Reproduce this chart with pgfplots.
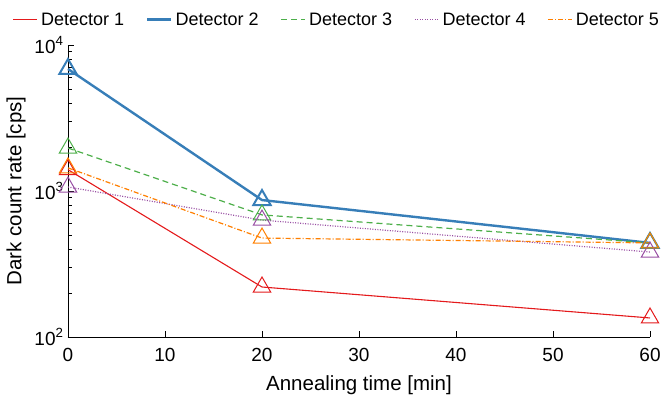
\documentclass[border=0pt]{standalone}
\usepackage{pgfplots}
\pgfplotsset{compat=1.18}
\usepackage{fontspec}
\setmainfont{Liberation Sans}
\usetikzlibrary{calc}

\definecolor{c1}{RGB}{228,26,28}
\definecolor{c2}{RGB}{55,126,184}
\definecolor{c3}{RGB}{77,175,74}
\definecolor{c4}{RGB}{152,78,163}
\definecolor{c5}{RGB}{255,127,0}

\begin{document}
\begin{tikzpicture}
\begin{axis}[
    name=ax,
    scale only axis,
    width=582bp, height=292bp,
    ymode=log,
    xmin=0, xmax=60, ymin=100, ymax=10000,
    axis x line=bottom, axis y line=left,
    axis line style={-, black, line width=0.9bp},
    tick align=inside,
    tick style={black, line width=0.8bp},
    major tick length=6bp, minor tick length=4bp,
    xtick={0,10,20,30,40,50,60},
    ytick={100,1000,10000},
    yticklabels={10\textsuperscript{2},10\textsuperscript{3},10\textsuperscript{4}},
    /pgf/number format/assume math mode=true,
    ticklabel style={font=\fontsize{19bp}{22bp}\selectfont},
    xticklabel style={yshift=-8bp},
    yticklabel style={xshift=-1bp},
    label style={font=\fontsize{20.5bp}{24bp}\selectfont},
    xlabel={Annealing time [min]},
    ylabel={Dark count rate [cps]},
    xlabel style={yshift=-7bp},
    ylabel style={yshift=2bp},
    clip=false,
    every axis plot/.append style={mark size=10bp},
    legend columns=5,
    legend style={draw=none, fill=none, at={(0.462,1)}, anchor=south, yshift=14bp,
        font=\fontsize{18bp}{21bp}\selectfont,
        /tikz/every odd column/.append style={column sep=1bp},
        /tikz/every even column/.append style={column sep=20bp}},
    legend image code/.code={\draw[#1] (0bp,0bp) -- (24bp,0bp);},
]
\addlegendimage{draw=c1, line width=1.3bp}
\addlegendentry{Detector 1}
\addlegendimage{draw=c2, line width=2.6bp}
\addlegendentry{Detector 2}
\addlegendimage{draw=c3, line width=1.4bp, dash pattern=on 6bp off 4bp}
\addlegendentry{Detector 3}
\addlegendimage{draw=c4, line width=1.4bp, dash pattern=on 1bp off 1.5bp}
\addlegendentry{Detector 4}
\addlegendimage{draw=c5, line width=1.4bp, dash pattern=on 5bp off 2bp on 1bp off 2bp}
\addlegendentry{Detector 5}

\addplot[forget plot, c1, line width=1.1bp, mark=triangle, mark options={solid, line width=1bp}] coordinates {
    (0,1400) (20,220) (60,135)
};
\addplot[forget plot, c2, line width=2.4bp, mark=triangle, mark options={solid, line width=2bp}] coordinates {
    (0,6850) (20,867) (60,441)
};
\addplot[forget plot, c3, line width=1.2bp, dash pattern=on 6bp off 4bp, mark=triangle, mark options={solid, line width=1bp}] coordinates {
    (0,1970) (20,686) (60,441)
};
\addplot[forget plot, c4, line width=1.2bp, dash pattern=on 1bp off 1.5bp, mark=triangle, mark options={solid, line width=1bp}] coordinates {
    (0,1065) (20,632) (60,382)
};
\addplot[forget plot, c5, line width=1.2bp, dash pattern=on 5bp off 2bp on 1bp off 2bp, mark=triangle, mark options={solid, line width=1bp}] coordinates {
    (0,1440) (20,476) (60,441)
};
\end{axis}
\pgfresetboundingbox
\path ($(ax.south west)+(-68bp,-64bp)$) rectangle ($(ax.south west)+(594bp,337bp)$);
\end{tikzpicture}
\end{document}
